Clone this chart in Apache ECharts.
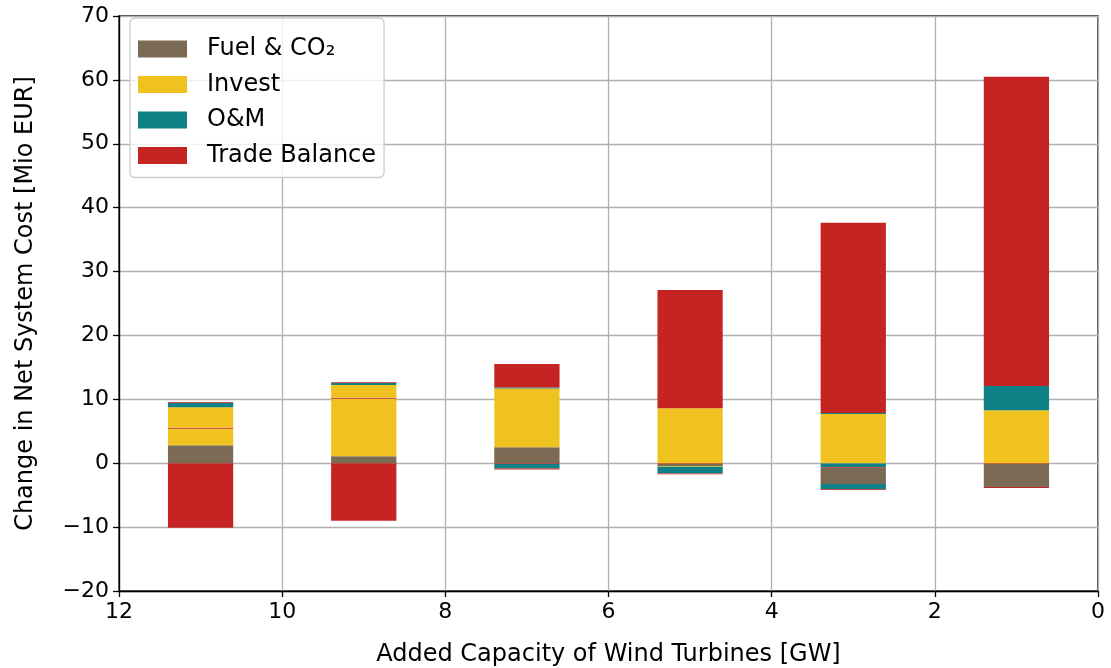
<!DOCTYPE html>
<html>
<head>
<meta charset="utf-8">
<script src="https://cdn.jsdelivr.net/npm/echarts@6/dist/echarts.min.js"></script>
<style>html,body{margin:0;padding:0;background:#fff}#c{width:1111px;height:668px}</style>
</head>
<body>
<div id="c"></div>
<script>
// Bar positions (GW of added wind capacity); each bar sits in a 2-GW band of the 12..0 axis
const capacities = ['11', '9', '7', '5', '3', '1'];
// Stack components, in stacking order (values in Mio EUR)
const omA     = [0, 0, 0, 0, -0.6, 0];
const tradeA  = [0, 0, -0.12, -0.12, -0.12, -0.12];
const fuel    = [2.8, 1.1, 2.5, -0.3, -2.55, -3.6];
const investA = [2.6, 9.0, 9.2, 8.6, 7.7, 8.3];
const tradeB  = [0.15, 0.15, 0, 0, 0, 0];
const investB = [3.2, 2.0, 0, -0.15, 0, 0];
const omB     = [0.7, 0.3, -0.7, -1.05, -0.8, 3.8];
const omC     = [0, 0, 0.15, 0, 0.15, 0];
const tradeC  = [0.12, 0.12, 3.7, 18.5, 29.8, 48.4];
const tradeD  = [-10.1, -9.0, -0.15, -0.12, -0.12, -0.15];

const xRange = [0, 12];
const yRange = [-20, 70];

const C = {
  'Fuel & CO₂': '#7b6a54',
  'Invest': '#efc220',
  'O&M': '#0e8186',
  'Trade Balance': '#c62422'
};
const layers = [
  ['O&M', omA], ['Trade Balance', tradeA], ['Fuel & CO₂', fuel],
  ['Invest', investA], ['Trade Balance', tradeB], ['Invest', investB],
  ['O&M', omB], ['O&M', omC], ['Trade Balance', tradeC], ['Trade Balance', tradeD]
];
const series = layers.map(([name, vals]) => ({
  name: name,
  type: 'bar',
  stack: 'total',
  xAxisIndex: 1,
  barWidth: '40%',
  itemStyle: { color: C[name] },
  emphasis: { disabled: true },
  data: vals
}));

const font = 'DejaVu Sans';
const fmt = v => String(v).replace('-', '\u2212');
const chart = echarts.init(document.getElementById('c'), null, { renderer: 'canvas' });
chart.setOption({
  animation: false,
  backgroundColor: '#fff',
  grid: { left: 119, right: 13, top: 16, bottom: 77, outerBoundsMode: 'none', containLabel: false, show: true, borderColor: '#000', borderWidth: 1.3, backgroundColor: 'transparent' },
  legend: {
    data: ['Fuel & CO₂', 'Invest', 'O&M', 'Trade Balance'],
    orient: 'vertical', left: 130, top: 18,
    itemWidth: 49, itemHeight: 17, itemGap: 11.5,
    padding: [19, 8, 10, 8],
    backgroundColor: 'rgba(255,255,255,0.8)',
    borderColor: '#cccccc', borderWidth: 1.3, borderRadius: 5,
    textStyle: { fontFamily: font, fontSize: 24, color: '#000', padding: [0, 0, 0, 15] },
    selectedMode: false,
    icon: 'rect'
  },
  xAxis: [{
    type: 'value', inverse: true, min: xRange[0], max: xRange[1], interval: 2,
    name: 'Added Capacity of Wind Turbines [GW]', nameLocation: 'middle', nameGap: 52,
    nameTextStyle: { fontFamily: font, fontSize: 24, color: '#000' },
    axisLine: { show: true, onZero: false, lineStyle: { color: '#000', width: 1.3 } },
    axisTick: { show: true, length: 6, lineStyle: { color: '#000', width: 1.3 } },
    axisLabel: { fontFamily: font, fontSize: 22, color: '#000', margin: 10, formatter: fmt },
    splitLine: { show: true, lineStyle: { color: '#b0b0b0', width: 1.3 } }
  }, {
    type: 'category', data: capacities, show: false, boundaryGap: true
  }],
  yAxis: {
    type: 'value', min: yRange[0], max: yRange[1], interval: 10,
    name: 'Change in Net System Cost [Mio EUR]', nameLocation: 'middle', nameGap: 81,
    nameTextStyle: { fontFamily: font, fontSize: 24, color: '#000' },
    axisLine: { show: true, onZero: false, lineStyle: { color: '#000', width: 1.3 } },
    axisTick: { show: true, length: 6, lineStyle: { color: '#000', width: 1.3 } },
    axisLabel: { fontFamily: font, fontSize: 22, color: '#000', margin: 10, formatter: fmt },
    splitLine: { show: true, lineStyle: { color: '#b0b0b0', width: 1.3 } }
  },
  series: series
});
</script>
</body>
</html>
